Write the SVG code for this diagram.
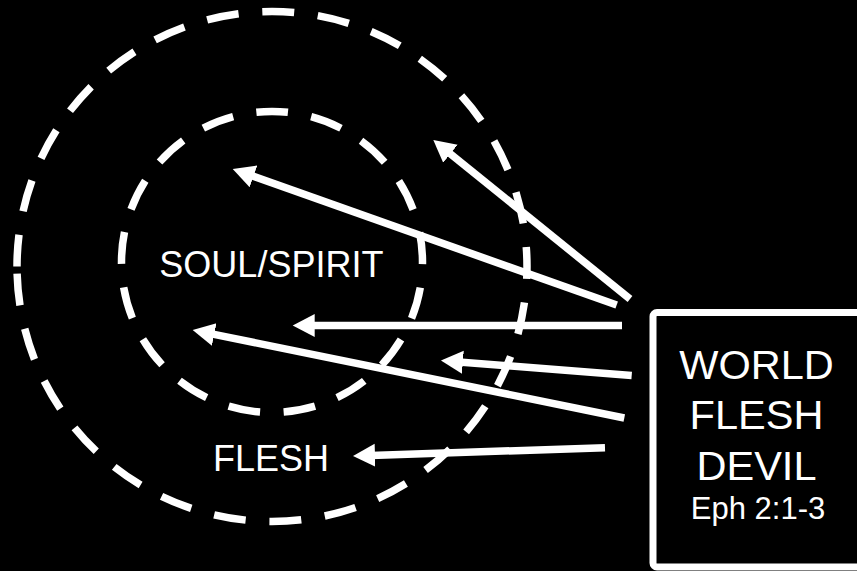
<svg xmlns="http://www.w3.org/2000/svg" width="857" height="571" viewBox="0 0 857 571">
<style>
.ring{fill:none;stroke:#fff;stroke-width:7.5}
.lbl{fill:#fff;font-family:"Liberation Sans",Arial,sans-serif;text-anchor:middle}
.arr{stroke:#fff;stroke-width:7.5;fill:none;marker-end:url(#ah)}
</style>
<defs>
<marker id="ah" markerUnits="userSpaceOnUse" markerWidth="24" markerHeight="25" viewBox="0 0 24 25" refX="4" refY="12.5" orient="auto">
<path d="M0,1 L22,12.5 L0,24 z" fill="#fff"/>
</marker>
</defs>
<rect x="0" y="0" width="857" height="571" fill="#000"/>
<g id="flesh">
<path class="ring" d="M17,266.5 A255,255 0 1 1 527,266.5 A255,255 0 1 1 17,266.5" stroke-dasharray="32 23.8"/>
<text class="lbl" x="271" y="470.7" font-size="36">FLESH</text>
</g>
<g id="soul-spirit">
<circle class="ring" cx="272" cy="262" r="150.5" transform="rotate(-90 272 262)" stroke-dasharray="32 23.62" stroke-dashoffset="16"/>
<text class="lbl" x="271.4" y="277" font-size="36">SOUL/SPIRIT</text>
</g>
<g id="world-flesh-devil">
<rect x="653" y="312.5" width="230" height="254.5" rx="4" fill="#000" stroke="#fff" stroke-width="7"/>
<text class="lbl" x="756.5" y="378.7" font-size="41.5">WORLD</text>
<text class="lbl" x="756.5" y="429.3" font-size="41.5">FLESH</text>
<text class="lbl" x="756.5" y="480" font-size="41.5">DEVIL</text>
<text class="lbl" x="758" y="519.3" font-size="31">Eph 2:1-3</text>
</g>
<g id="connectors">
<line class="arr" x1="630" y1="299" x2="447.3" y2="151.3"/>
<line class="arr" x1="616.7" y1="305" x2="249.7" y2="175"/>
<line class="arr" x1="622" y1="325.5" x2="310.7" y2="325.5"/>
<line class="arr" x1="631.7" y1="375.5" x2="458.9" y2="361.9"/>
<line class="arr" x1="624.3" y1="418" x2="210.3" y2="333.6"/>
<line class="arr" x1="605" y1="447.7" x2="371" y2="455.4"/>
</g>
</svg>
